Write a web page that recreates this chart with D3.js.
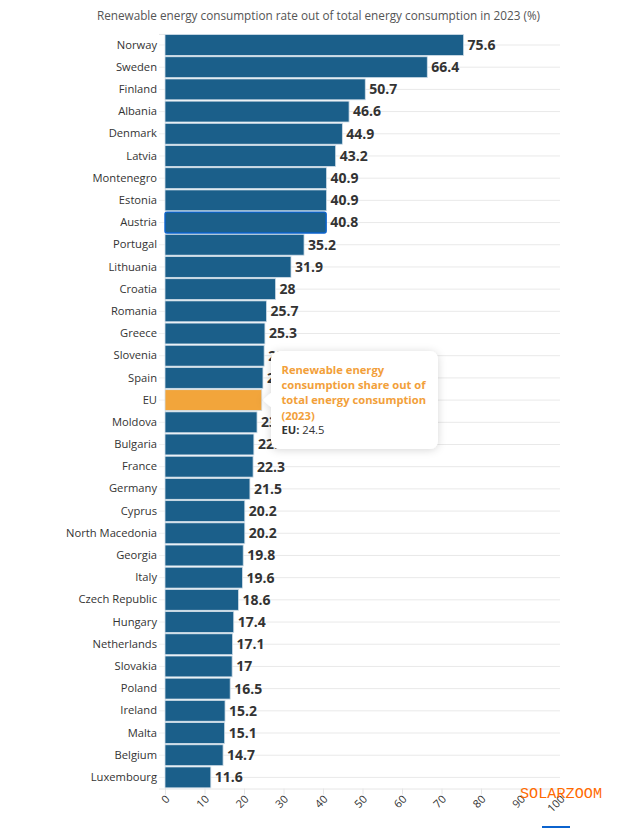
<!DOCTYPE html>
<html>
<head>
<meta charset="utf-8">
<script src="https://cdnjs.cloudflare.com/ajax/libs/d3/7.8.5/d3.min.js"></script>
<style>
html, body { margin: 0; padding: 0; background: #fff; }
svg { display: block; font-family: "Open Sans", sans-serif; }
</style>
</head>
<body>
<svg id="chart" width="622" height="828"></svg>
<script>
// waarden
const countries = ['Norway', 'Sweden', 'Finland', 'Albania', 'Denmark', 'Latvia', 'Montenegro', 'Estonia', 'Austria',
    'Portugal', 'Lithuania', 'Croatia', 'Romania', 'Greece', 'Slovenia', 'Spain', 'EU', 'Moldova', 'Bulgaria', 'France',
    'Germany', 'Cyprus', 'North Macedonia', 'Georgia', 'Italy', 'Czech Republic', 'Hungary', 'Netherlands', 'Slovakia',
    'Poland', 'Ireland', 'Malta', 'Belgium', 'Luxembourg'];
const shares = [75.6, 66.4, 50.7, 46.6, 44.9, 43.2, 40.9, 40.9, 40.8, 35.2, 31.9, 28, 25.7, 25.3, 25.1, 24.8, 24.5, 23.3,
    22.5, 22.3, 21.5, 20.2, 20.2, 19.8, 19.6, 18.6, 17.4, 17.1, 17, 16.5, 15.2, 15.1, 14.7, 11.6];
const xTicks = [0, 10, 20, 30, 40, 50, 60, 70, 80, 90, 100];
const title = 'Renewable energy consumption rate out of total energy consumption in 2023 (%)';
const tooltipTitle = ['Renewable energy', 'consumption share out of', 'total energy consumption', '(2023)'];

const rows = countries.map((name, i) => ({ name, value: shares[i] }));
const svg = d3.select('#chart');

const x = d3.scaleLinear().domain([0, 100]).range([165, 560]);
const y = d3.scaleBand().domain(countries).range([33.9, 788.5]).paddingInner(0.06).paddingOuter(0.03);

// titel
svg.append('text')
    .attr('x', 318.5).attr('y', 19.5)
    .attr('text-anchor', 'middle')
    .attr('font-size', 11.76).attr('fill', '#555')
    .text(title);

// x-as
const xAxis = svg.append('g')
    .attr('transform', 'translate(0,788.5)')
    .call(d3.axisBottom(x).tickValues(xTicks).tickSize(6).tickPadding(5));
xAxis.select('.domain').attr('stroke', '#e6e6e6');
xAxis.selectAll('.tick line').attr('stroke', '#e6e6e6');
xAxis.selectAll('text')
    .attr('font-family', '"Open Sans", sans-serif')
    .attr('font-size', 11).attr('fill', '#333')
    .attr('text-anchor', 'end')
    .attr('transform', 'translate(-8,0) rotate(-45)')
    .attr('dx', '0.1em').attr('dy', '0.55em');

// y-as met horizontale hulplijnen
const yAxis = svg.append('g')
    .attr('transform', 'translate(165,0)')
    .call(d3.axisLeft(y).tickSize(6).tickPadding(2));
yAxis.select('.domain').attr('stroke', '#e6e6e6');
yAxis.selectAll('.tick line').attr('stroke', '#f0f0f0').attr('x2', -6);
yAxis.selectAll('.tick').append('line')
    .attr('x1', 0).attr('x2', 395)
    .attr('stroke', '#e9e9e9');
yAxis.selectAll('text')
    .attr('font-family', '"Open Sans", sans-serif')
    .attr('font-size', 11.2).attr('fill', '#333');

// balken
svg.append('g').selectAll('rect')
    .data(rows)
    .join('rect')
    .attr('x', x(0))
    .attr('y', d => y(d.name))
    .attr('width', d => x(d.value) - x(0))
    .attr('height', y.bandwidth())
    .attr('fill', d => d.name === 'EU' ? '#f2a53b' : '#1b5f8a')
    .attr('stroke', d => d.name === 'Austria' ? '#0b63ce' : '#cfdde8')
    .attr('stroke-width', d => d.name === 'Austria' ? 1.4 : 0.8)
    .attr('rx', d => d.name === 'Austria' ? 2 : 0)
    .filter(d => d.name === 'Austria')
    .raise();

// waardelabels, EU staat alleen in de tooltip
svg.append('g').selectAll('text')
    .data(rows.filter(d => d.name !== 'EU'))
    .join('text')
    .attr('x', d => x(d.value) + 4)
    .attr('y', d => y(d.name) + y.bandwidth() / 2)
    .attr('dy', '0.35em')
    .attr('font-size', 14).attr('font-weight', 700).attr('fill', '#333')
    .text(d => d.value);

// tooltip
const defs = svg.append('defs');
const shadow = defs.append('filter').attr('id', 'tipShadow')
    .attr('x', '-20%').attr('y', '-20%').attr('width', '140%').attr('height', '140%');
shadow.append('feDropShadow')
    .attr('dx', 0).attr('dy', 1).attr('stdDeviation', 4)
    .attr('flood-color', '#000').attr('flood-opacity', 0.16);

const eu = rows.find(d => d.name === 'EU');
const tipY = y(eu.name) + y.bandwidth() / 2;
const tip = svg.append('g');
tip.append('path')
    .attr('d', `M271,359 a8,8 0 0 1 8,-8 H430 a8,8 0 0 1 8,8 V441 a8,8 0 0 1 -8,8 H279 a8,8 0 0 1 -8,-8 V${tipY + 7} L${x(eu.value) + 1},${tipY} L271,${tipY - 7} Z`)
    .attr('fill', '#fff')
    .attr('filter', 'url(#tipShadow)');
tip.selectAll('text.head')
    .data(tooltipTitle)
    .join('text')
    .attr('class', 'head')
    .attr('x', 281.5)
    .attr('y', (d, i) => 374 + i * 15.2)
    .attr('font-size', 11.2).attr('font-weight', 700).attr('fill', '#f2a03a')
    .text(d => d);
const tipValue = tip.append('text')
    .attr('x', 281.5).attr('y', 434)
    .attr('font-size', 11.2).attr('fill', '#333');
tipValue.append('tspan').attr('font-weight', 700).text(`${eu.name}: `);
tipValue.append('tspan').text(eu.value);

// watermerk en blauw streepje onderaan
svg.append('text')
    .attr('x', 520).attr('y', 798)
    .attr('font-family', '"Liberation Mono", "DejaVu Sans Mono", monospace')
    .attr('font-size', 15.2).attr('fill', '#ff6a00')
    .text('SOLARZOOM');
svg.append('line')
    .attr('x1', 542).attr('x2', 570)
    .attr('y1', 827).attr('y2', 827)
    .attr('stroke', '#0b63ce').attr('stroke-width', 2);
</script>
</body>
</html>
